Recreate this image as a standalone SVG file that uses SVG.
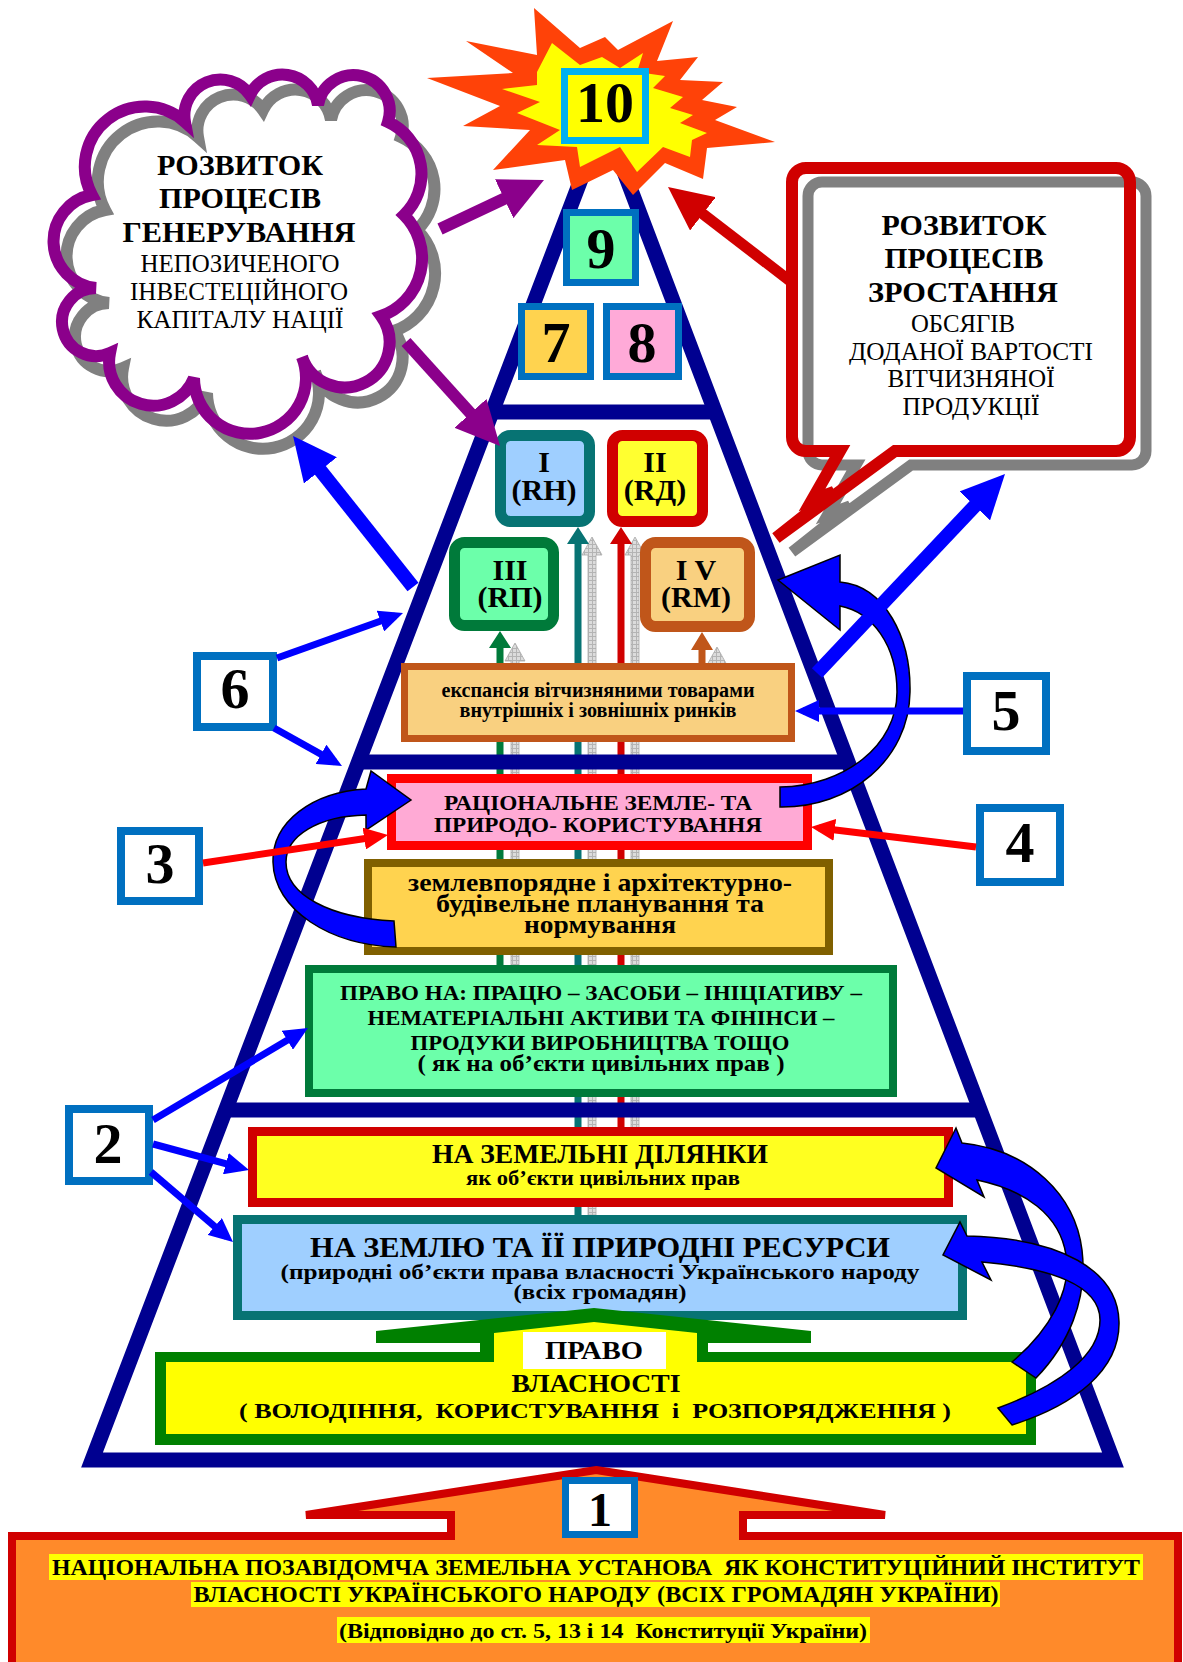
<svg xmlns="http://www.w3.org/2000/svg" width="1183" height="1662" viewBox="0 0 1183 1662">
<defs>
<style>
text{font-family:"Liberation Serif","Times New Roman",serif;font-weight:bold;text-anchor:middle;fill:#000}
.n{font-weight:normal}
.pre{white-space:pre}
.nb{fill:#fff;stroke:#0070C0;stroke-width:8}
.tb{stroke:#0070C0;stroke-width:7}
.num{font-size:58px}
.cv{fill:#0000FF;stroke:#000;stroke-width:1.5;stroke-linejoin:miter}
.gr{fill:url(#gp);stroke:#A8A8A8;stroke-width:0.8}
</style>
<pattern id="gp" width="4" height="4" patternUnits="userSpaceOnUse"><rect width="4" height="4" fill="#DCDCDC"/><path d="M0,0.5H4M0.5,0V4" stroke="#B4B4B4" stroke-width="1"/></pattern>
<marker id="mb" markerUnits="userSpaceOnUse" markerWidth="24" markerHeight="22" refX="16" refY="11" orient="auto"><path d="M0,0L24,11L0,22z" fill="#0000FF"/></marker>
<marker id="mr" markerUnits="userSpaceOnUse" markerWidth="24" markerHeight="22" refX="16" refY="11" orient="auto"><path d="M0,0L24,11L0,22z" fill="#FF0000"/></marker>
<marker id="mB" markerUnits="userSpaceOnUse" markerWidth="44" markerHeight="42" refX="28" refY="21" orient="auto"><path d="M0,0L44,21L0,42z" fill="#0000FF"/></marker>
<marker id="mP" markerUnits="userSpaceOnUse" markerWidth="44" markerHeight="43" refX="28" refY="21.5" orient="auto"><path d="M0,0L44,21.5L0,43z" fill="#8B008B"/></marker>
<marker id="mR" markerUnits="userSpaceOnUse" markerWidth="44" markerHeight="42" refX="28" refY="21" orient="auto"><path d="M0,0L44,21L0,42z" fill="#D00000"/></marker>
</defs>
<rect width="1183" height="1662" fill="#fff"/>

<g id="pyramid">
<polygon points="604,119 1113,1460 92,1460" fill="#fff" stroke="#000090" stroke-width="15"/>
</g>

<g id="connectors-vertical">
<polygon class="gr" points="515,643 525,661 519,661 519,965 511,965 511,661 505,661"/>
<polygon class="gr" points="592,537 602,555 596,555 596,1215 588,1215 588,555 582,555"/>
<polygon class="gr" points="635,537 645,555 639,555 639,1128 631,1128 631,555 625,555"/>
<polygon class="gr" points="717,647 727,665 721,665 721,670 713,670 713,665 707,665"/>
<polygon points="500,631 511,648 503.5,648 503.5,965 496.5,965 496.5,648 489,648" fill="#007A3A"/>
<polygon points="578,527 589,544 581.5,544 581.5,1215 574.5,1215 574.5,544 567,544" fill="#077373"/>
<polygon points="621,527 632,544 624.5,544 624.5,1128 617.5,1128 617.5,544 610,544" fill="#D00000"/>
<polygon points="702,632 713,650 705.5,650 705.5,667 698.5,667 698.5,650 691,650" fill="#C0561A"/>
</g>

<g id="pyramid-bars" stroke="#000090" stroke-width="15">
<line x1="489" y1="412" x2="719" y2="412"/>
<line x1="357" y1="762" x2="849" y2="762"/>
<line x1="224" y1="1110" x2="982" y2="1110"/>
</g>

<g id="n10">
<polygon points="534,8 580,48 605,37 618,50 673,21 657,61 698,57 680,80 723,82 702,100 737,107 715,120 775,142 707,148 703,179 665,163 633,195 613,170 572,190 565,160 493,170 530,130 463,126 500,106 427,78 513,73 466,41 537,55" fill="#FF4208"/>
<polygon points="552,43 580,65 602,57 620,68 643,53 637,72 665,76 653,88 683,97 670,108 693,115 680,123 707,133 692,140 690,157 663,147 637,172 620,147 580,167 577,147 537,145 560,130 517,113 540,102 502,89 537,85 537,72" fill="#FFFF00"/>
<rect x="564.5" y="71.5" width="81" height="69" fill="#FFFF00" stroke="#00B0F0" stroke-width="7"/>
<text x="605" y="122" class="num">10</text>
</g>
<g id="n9"><rect x="566.5" y="212.5" width="69" height="70" fill="#6CFFAA" class="tb"/><text x="601" y="268" class="num">9</text></g>
<g id="n7"><rect x="521.5" y="306.5" width="69" height="70" fill="#FFD34F" class="tb"/><text x="556" y="362" class="num">7</text></g>
<g id="n8"><rect x="606.5" y="306.5" width="72" height="70" fill="#FFAAD8" class="tb"/><text x="642" y="362" class="num">8</text></g>

<g id="nI"><rect x="500.5" y="435.5" width="89" height="86" rx="10" fill="#9FCFFF" stroke="#077373" stroke-width="11"/><text font-size="30"><tspan x="544" y="472">I</tspan><tspan x="544" y="500">(RH)</tspan></text></g>
<g id="nII"><rect x="612.5" y="435.5" width="90" height="86" rx="10" fill="#FFFF30" stroke="#D00000" stroke-width="11"/><text font-size="30"><tspan x="655" y="472">II</tspan><tspan x="655" y="500">(RД)</tspan></text></g>
<g id="nIII"><rect x="454.5" y="542.5" width="99" height="83" rx="10" fill="#6CFFAA" stroke="#007A3A" stroke-width="11"/><text font-size="30"><tspan x="510" y="580">III</tspan><tspan x="510" y="607">(RП)</tspan></text></g>
<g id="nIV"><rect x="645.5" y="542.5" width="104" height="84" rx="10" fill="#F9D080" stroke="#C0561A" stroke-width="11"/><text font-size="30" class="pre"><tspan x="696" y="580">I V</tspan><tspan x="696" y="607">(RM)</tspan></text></g>

<g id="expansion"><rect x="404.5" y="666.5" width="387" height="72" fill="#F9D080" stroke="#C0561A" stroke-width="7"/>
<text font-size="20"><tspan x="598" y="697" textLength="313" lengthAdjust="spacingAndGlyphs">експансія вітчизняними товарами</tspan><tspan x="598" y="717" textLength="277" lengthAdjust="spacingAndGlyphs">внутрішніх і зовнішніх ринків</tspan></text></g>

<g id="rational"><rect x="391.5" y="778.5" width="416" height="67" fill="#FFAAD5" stroke="#FF0000" stroke-width="9"/>
<text font-size="22"><tspan x="598" y="810" textLength="308" lengthAdjust="spacingAndGlyphs">РАЦІОНАЛЬНЕ ЗЕМЛЕ- ТА</tspan><tspan x="598" y="832" textLength="328" lengthAdjust="spacingAndGlyphs">ПРИРОДО- КОРИСТУВАННЯ</tspan></text></g>

<g id="planning"><rect x="368" y="863" width="461" height="88" fill="#FFD34F" stroke="#806000" stroke-width="8"/>
<text font-size="25"><tspan x="600" y="891" textLength="384" lengthAdjust="spacingAndGlyphs">землевпорядне і архітектурно-</tspan><tspan x="600" y="912" textLength="328" lengthAdjust="spacingAndGlyphs">будівельне планування та</tspan><tspan x="600" y="933" textLength="152" lengthAdjust="spacingAndGlyphs">нормування</tspan></text></g>

<g id="rights"><rect x="309" y="969" width="584" height="124" fill="#6CFFAA" stroke="#007A3A" stroke-width="8"/>
<text font-size="22"><tspan x="601" y="1000" textLength="522" lengthAdjust="spacingAndGlyphs">ПРАВО НА: ПРАЦЮ – ЗАСОБИ – ІНІЦІАТИВУ –</tspan><tspan x="601" y="1025" textLength="467" lengthAdjust="spacingAndGlyphs">НЕМАТЕРІАЛЬНІ АКТИВИ ТА ФІНІНСИ –</tspan><tspan x="600" y="1050" textLength="379" lengthAdjust="spacingAndGlyphs">ПРОДУКИ ВИРОБНИЦТВА ТОЩО</tspan><tspan x="601" y="1071" font-size="23" textLength="367" lengthAdjust="spacingAndGlyphs">( як на об’єкти цивільних прав )</tspan></text></g>

<g id="plots"><rect x="252.5" y="1131.5" width="696" height="71" fill="#FFFF20" stroke="#D00000" stroke-width="9"/>
<text><tspan x="600" y="1163" font-size="28" textLength="336" lengthAdjust="spacingAndGlyphs">НА ЗЕМЕЛЬНІ ДІЛЯНКИ</tspan><tspan x="603" y="1185" font-size="21" textLength="274" lengthAdjust="spacingAndGlyphs">як об’єкти цивільних прав</tspan></text></g>

<g id="land"><rect x="237.5" y="1219.5" width="725" height="96" fill="#9FCFFF" stroke="#077373" stroke-width="9"/>
<text><tspan x="600" y="1257" font-size="29" textLength="580" lengthAdjust="spacingAndGlyphs">НА ЗЕМЛЮ ТА ЇЇ ПРИРОДНІ РЕСУРСИ</tspan><tspan x="600" y="1279" font-size="20" textLength="639" lengthAdjust="spacingAndGlyphs">(природні об’єкти права власності Українського народу</tspan><tspan x="600" y="1299" font-size="20" textLength="173" lengthAdjust="spacingAndGlyphs">(всіх громадян)</tspan></text></g>

<g id="ownership">
<polygon points="594,1308 811,1331 811,1343 708,1343 708,1352 1036,1352 1036,1445 155,1445 155,1352 480,1352 480,1343 376,1343 376,1331" fill="#008000"/>
<polygon points="594,1322 697,1333 697,1362 1026,1362 1026,1434 166,1434 166,1362 494,1362 494,1333" fill="#FFFF00"/>
<rect x="523" y="1332" width="143" height="37" fill="#fff"/>
<text font-size="26" class="pre"><tspan x="594" y="1359" textLength="98" lengthAdjust="spacingAndGlyphs">ПРАВО</tspan><tspan x="596" y="1392" textLength="169" lengthAdjust="spacingAndGlyphs">ВЛАСНОСТІ</tspan><tspan x="595" y="1418" font-size="21" textLength="712" lengthAdjust="spacingAndGlyphs">( ВОЛОДІННЯ,  КОРИСТУВАННЯ  і  РОЗПОРЯДЖЕННЯ )</tspan></text>
</g>

<g id="institute">
<polygon points="596,1470 885,1515 743,1515 743,1536 1178,1536 1178,1672 12,1672 12,1536 451,1536 451,1515 306,1515" fill="#FF8A2A" stroke="#D00000" stroke-width="8"/>
<rect x="49" y="1554" width="1094" height="26" fill="#FFFF00"/>
<rect x="191" y="1582" width="809" height="25" fill="#FFFF00"/>
<rect x="337" y="1617" width="533" height="26" fill="#FFFF00"/>
<text class="pre"><tspan x="596" y="1575" font-size="23" textLength="1088" lengthAdjust="spacingAndGlyphs">НАЦІОНАЛЬНА ПОЗАВІДОМЧА ЗЕМЕЛЬНА УСТАНОВА  ЯК КОНСТИТУЦІЙНИЙ ІНСТИТУТ</tspan><tspan x="596" y="1602" font-size="23" textLength="805" lengthAdjust="spacingAndGlyphs">ВЛАСНОСТІ УКРАЇНСЬКОГО НАРОДУ (ВСІХ ГРОМАДЯН УКРАЇНИ)</tspan><tspan x="603" y="1638" font-size="21" textLength="528" lengthAdjust="spacingAndGlyphs">(Відповідно до ст. 5, 13 і 14  Конституції України)</tspan></text>
</g>
<g id="n1"><rect x="565.5" y="1480.5" width="69" height="54" fill="#fff" class="tb"/><text x="600" y="1526" font-size="48">1</text></g>

<g id="cloud">
<path transform="translate(13,15)" d="M92,195 A60,60 0 0 1 185,122 A36,36 0 0 1 250,95 A36,36 0 0 1 318,105 A36.1,36.1 0 1 1 388,122 A57,57 0 0 1 404,215 A61,61 0 0 1 381,316 A45,45 0 1 1 302,357 A56,56 0 1 1 194,378 A44,44 0 0 1 110,353 A34,34 0 1 1 96,288 A47,47 0 0 1 92,195 Z" fill="none" stroke="#808080" stroke-width="12"/>
<path d="M92,195 A60,60 0 0 1 185,122 A36,36 0 0 1 250,95 A36,36 0 0 1 318,105 A36.1,36.1 0 1 1 388,122 A57,57 0 0 1 404,215 A61,61 0 0 1 381,316 A45,45 0 1 1 302,357 A56,56 0 1 1 194,378 A44,44 0 0 1 110,353 A34,34 0 1 1 96,288 A47,47 0 0 1 92,195 Z" fill="none" stroke="#8B008B" stroke-width="12"/>
<text font-size="30"><tspan x="240" y="175" textLength="166" lengthAdjust="spacingAndGlyphs">РОЗВИТОК</tspan><tspan x="240" y="208" textLength="162" lengthAdjust="spacingAndGlyphs">ПРОЦЕСІВ</tspan><tspan x="239" y="242" textLength="233" lengthAdjust="spacingAndGlyphs">ГЕНЕРУВАННЯ</tspan></text>
<text font-size="25" class="n"><tspan x="240" y="272" textLength="199" lengthAdjust="spacingAndGlyphs">НЕПОЗИЧЕНОГО</tspan><tspan x="239" y="300" textLength="218" lengthAdjust="spacingAndGlyphs">ІНВЕСТЕЦІЙНОГО</tspan><tspan x="240" y="328" textLength="207" lengthAdjust="spacingAndGlyphs">КАПІТАЛУ НАЦІЇ</tspan></text>
</g>

<g id="callout">
<path transform="translate(16,14)" d="M806,168 H1116 A14,14 0 0 1 1130,182 V437 A14,14 0 0 1 1116,451 H895 L776,538 L834,492 L812,500 L840,451 H806 A14,14 0 0 1 792,437 V182 A14,14 0 0 1 806,168 Z" fill="none" stroke="#808080" stroke-width="11"/>
<path d="M806,168 H1116 A14,14 0 0 1 1130,182 V437 A14,14 0 0 1 1116,451 H895 L776,538 L834,492 L812,500 L840,451 H806 A14,14 0 0 1 792,437 V182 A14,14 0 0 1 806,168 Z" fill="none" stroke="#D00000" stroke-width="12"/>
<text font-size="30"><tspan x="964" y="235" textLength="165" lengthAdjust="spacingAndGlyphs">РОЗВИТОК</tspan><tspan x="964" y="268" textLength="159" lengthAdjust="spacingAndGlyphs">ПРОЦЕСІВ</tspan><tspan x="963" y="302" textLength="190" lengthAdjust="spacingAndGlyphs">ЗРОСТАННЯ</tspan></text>
<text font-size="25" class="n"><tspan x="963" y="332" textLength="104" lengthAdjust="spacingAndGlyphs">ОБСЯГІВ</tspan><tspan x="971" y="360" textLength="244" lengthAdjust="spacingAndGlyphs">ДОДАНОЇ ВАРТОСТІ</tspan><tspan x="971" y="387" textLength="167" lengthAdjust="spacingAndGlyphs">ВІТЧИЗНЯНОЇ</tspan><tspan x="971" y="415" textLength="137" lengthAdjust="spacingAndGlyphs">ПРОДУКЦІЇ</tspan></text>
</g>

<g id="n6"><rect x="197" y="656" width="76" height="71" class="nb"/><text x="235" y="708" class="num">6</text></g>
<g id="n3"><rect x="121" y="831" width="78" height="70" class="nb"/><text x="160" y="883" class="num">3</text></g>
<g id="n4"><rect x="980" y="808" width="80" height="74" class="nb"/><text x="1020" y="862" class="num">4</text></g>
<g id="n5"><rect x="967" y="676" width="79" height="75" class="nb"/><text x="1006" y="730" class="num">5</text></g>
<g id="n2"><rect x="69" y="1109" width="80" height="72" class="nb"/><text x="108" y="1163" class="num">2</text></g>

<g id="connectors">
<path class="cv" d="M394,921 C330,918 286,895 286,862 C286,836 318,816 366,815 L366,830 L411,800 L371,771 L366,789 C312,792 272,822 273,862 C274,910 330,945 396,947 Z"/>
<path class="cv" d="M780,787 C845,786 897,745 897,692 C897,645 872,612 840,606 L840,630 L778,580 L840,555 L840,582 C885,586 911,638 910,692 C909,760 850,808 780,807 Z"/>
<path class="cv" d="M1012,1362 C1050,1330 1072,1290 1066,1255 C1060,1215 1025,1190 977,1180 L984,1197 L936,1168 L956,1128 L962,1143 C1030,1150 1075,1195 1082,1250 C1088,1300 1068,1345 1036,1378 Z"/>
<path class="cv" d="M998,1408 C1060,1385 1100,1355 1100,1320 C1100,1285 1050,1268 982,1262 L991,1280 L943,1255 L960,1222 L967,1236 C1060,1238 1118,1270 1119,1322 C1120,1370 1075,1405 1012,1425 Z"/>

<line x1="440" y1="229" x2="529.5" y2="186.8" stroke="#8B008B" stroke-width="12" marker-end="url(#mP)"/>
<line x1="406" y1="342" x2="489.3" y2="434.1" stroke="#8B008B" stroke-width="12" marker-end="url(#mP)"/>
<line x1="413" y1="587" x2="303" y2="448.5" stroke="#0000FF" stroke-width="14" marker-end="url(#mB)"/>
<line x1="817" y1="673" x2="994" y2="485.6" stroke="#0000FF" stroke-width="14" marker-end="url(#mB)"/>
<line x1="790" y1="281" x2="680.7" y2="196.8" stroke="#D00000" stroke-width="11" marker-end="url(#mR)"/>

<line x1="277" y1="658" x2="395.5" y2="615.7" stroke="#0000FF" stroke-width="7" marker-end="url(#mb)"/>
<line x1="274" y1="728" x2="335" y2="762.1" stroke="#0000FF" stroke-width="7" marker-end="url(#mb)"/>
<line x1="963" y1="711" x2="803" y2="711" stroke="#0000FF" stroke-width="7" marker-end="url(#mb)"/>
<line x1="153" y1="1120" x2="301.1" y2="1032.1" stroke="#0000FF" stroke-width="7" marker-end="url(#mb)"/>
<line x1="153" y1="1144" x2="241.3" y2="1167.9" stroke="#0000FF" stroke-width="7" marker-end="url(#mb)"/>
<line x1="151" y1="1172" x2="226.9" y2="1236.8" stroke="#0000FF" stroke-width="7" marker-end="url(#mb)"/>
<line x1="203" y1="863" x2="380.1" y2="836.2" stroke="#FF0000" stroke-width="7" marker-end="url(#mr)"/>
<line x1="976" y1="847" x2="818.9" y2="828" stroke="#FF0000" stroke-width="7" marker-end="url(#mr)"/>
</g>
</svg>
